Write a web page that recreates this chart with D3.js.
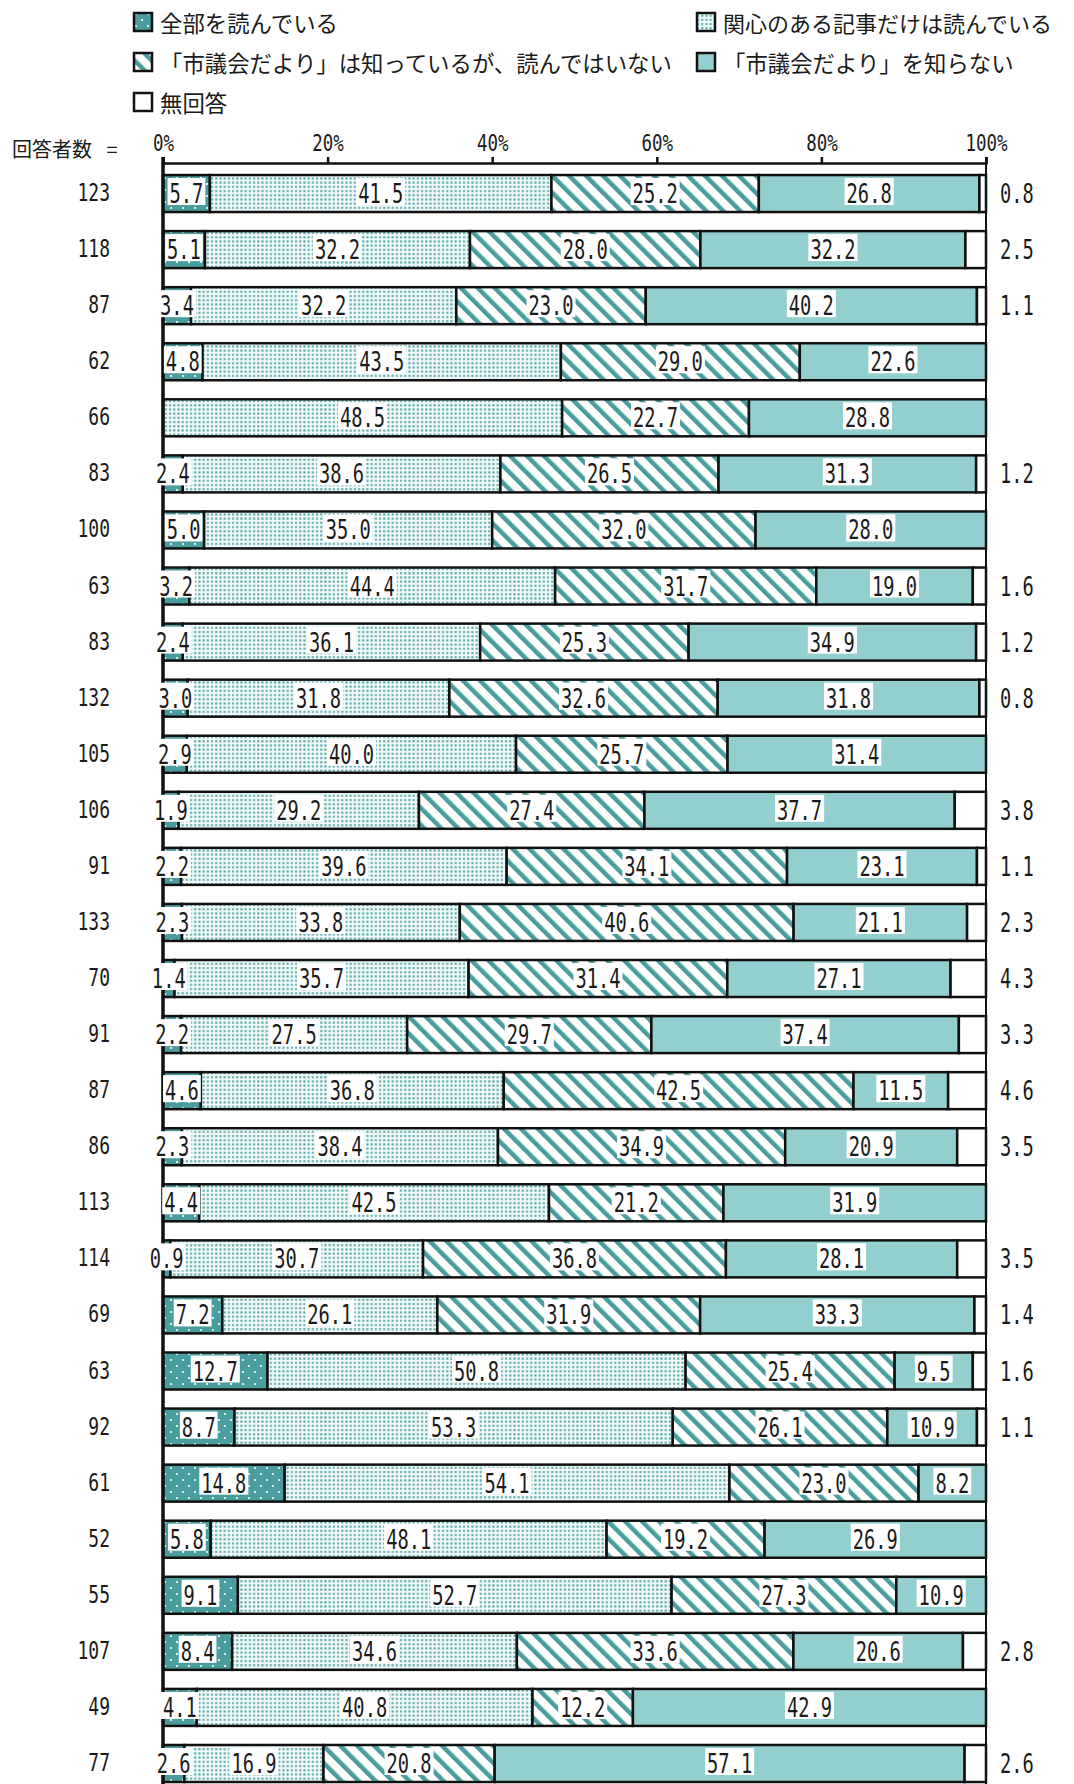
<!DOCTYPE html>
<html lang="ja">
<head>
<meta charset="UTF-8">
<title>市議会だより</title>
<style>
  body { margin: 0; background: #fff; }
  text { fill: #1a1a1a; }
  .num { font-family: "DejaVu Sans Mono", monospace; }
  .jp { font-family: "Noto Sans CJK JP", sans-serif; }
</style>
</head>
<body>
<svg width="1074" height="1784" id="svg"></svg>
<script src="https://d3js.org/d3.v7.min.js"></script>
<script>
  // 回答者数 (行ごと)
  const counts = [123, 118, 87, 62, 66, 83, 100, 63, 83, 132, 105, 106, 91, 133, 70, 91, 87, 86, 113, 114, 69, 63, 92, 61, 52, 55, 107, 49, 77]
  const allRead = [5.7, 5.1, 3.4, 4.8, 0, 2.4, 5.0, 3.2, 2.4, 3.0, 2.9, 1.9, 2.2, 2.3, 1.4, 2.2, 4.6, 2.3, 4.4, 0.9, 7.2, 12.7, 8.7, 14.8, 5.8, 9.1, 8.4, 4.1, 2.6]
  const someRead = [41.5, 32.2, 32.2, 43.5, 48.5, 38.6, 35.0, 44.4, 36.1, 31.8, 40.0, 29.2, 39.6, 33.8, 35.7, 27.5, 36.8, 38.4, 42.5, 30.7, 26.1, 50.8, 53.3, 54.1, 48.1, 52.7, 34.6, 40.8, 16.9]
  const notRead = [25.2, 28.0, 23.0, 29.0, 22.7, 26.5, 32.0, 31.7, 25.3, 32.6, 25.7, 27.4, 34.1, 40.6, 31.4, 29.7, 42.5, 34.9, 21.2, 36.8, 31.9, 25.4, 26.1, 23.0, 19.2, 27.3, 33.6, 12.2, 20.8]
  const unknown = [26.8, 32.2, 40.2, 22.6, 28.8, 31.3, 28.0, 19.0, 34.9, 31.8, 31.4, 37.7, 23.1, 21.1, 27.1, 37.4, 11.5, 20.9, 31.9, 28.1, 33.3, 9.5, 10.9, 8.2, 26.9, 10.9, 20.6, 42.9, 57.1]
  const noAnswer = [0.8, 2.5, 1.1, 0, 0, 1.2, 0, 1.6, 1.2, 0.8, 0, 3.8, 1.1, 2.3, 4.3, 3.3, 4.6, 3.5, 0, 3.5, 1.4, 1.6, 1.1, 0, 0, 0, 2.8, 0, 2.6]
  const seriesNames = ["全部を読んでいる", "関心のある記事だけは読んでいる", "「市議会だより」は知っているが、読んではいない", "「市議会だより」を知らない", "無回答"]
  const tickValues = [0, 20, 40, 60, 80, 100]

  const teal = "#4a9d9e"
  const lightTeal = "#94cfcf"
  const fills = ["url(#pDark)", "url(#pDots)", "url(#pStripe)", lightTeal, "#fff"]
  const sx = 0.72
  const fmt = d3.format(".1f")

  const svg = d3.select("svg#svg")
  const axisY = 163
  const step = 56.07
  const rowTop = 165.5

  const keys = ["a", "b", "c", "d", "e"]
  const table = counts.map((c, i) => ({ idx: i, a: allRead[i], b: someRead[i], c: notRead[i], d: unknown[i], e: noAnswer[i] }))
  // 丸め誤差があるので各行を100%にそろえる
  const stacked = d3.stack().keys(keys).offset(d3.stackOffsetExpand)(table)

  const xScale = d3.scaleLinear().domain([0, 100]).range([163, 986])
  const yScale = d3.scaleBand().domain(d3.range(counts.length))
    .range([rowTop, rowTop + step * counts.length]).paddingInner(0.34).paddingOuter(0.17)

  // パターン
  const defs = svg.append("defs")
  const pDark = defs.append("pattern").attr("id", "pDark").attr("patternUnits", "userSpaceOnUse").attr("width", 12).attr("height", 12)
  pDark.append("rect").attr("width", 12).attr("height", 12).attr("fill", teal)
  pDark.append("circle").attr("cx", 3).attr("cy", 4).attr("r", 1.1).attr("fill", "#fff")
  pDark.append("circle").attr("cx", 9).attr("cy", 10).attr("r", 1.1).attr("fill", "#fff")

  const pDots = defs.append("pattern").attr("id", "pDots").attr("patternUnits", "userSpaceOnUse").attr("width", 4.2).attr("height", 4.2)
  pDots.append("rect").attr("width", 4.2).attr("height", 4.2).attr("fill", "#f2f9f9")
  pDots.append("rect").attr("x", 1).attr("y", 1).attr("width", 2.1).attr("height", 2.1).attr("fill", "#58a9a9")

  const pStripe = defs.append("pattern").attr("id", "pStripe").attr("patternUnits", "userSpaceOnUse")
    .attr("width", 12).attr("height", 12).attr("patternTransform", "rotate(-45)")
  pStripe.append("rect").attr("width", 12).attr("height", 12).attr("fill", "#fff")
  pStripe.append("rect").attr("width", 4.5).attr("height", 12).attr("fill", teal)

  // 凡例
  const legendPos = [[133, 22], [696, 22], [133, 62], [696, 62], [133, 102]]
  const legend = svg.append("g").selectAll("g").data(seriesNames).join("g")
    .attr("transform", (d, i) => `translate(${legendPos[i][0]},${legendPos[i][1]})`)
  legend.append("rect").attr("x", 1).attr("y", -9).attr("width", 18).attr("height", 18)
    .attr("fill", (d, i) => fills[i]).attr("stroke", "#111").attr("stroke-width", 2.5)
  legend.append("text").attr("class", "jp").attr("x", 27).attr("dominant-baseline", "central")
    .attr("font-size", (d, i) => i == 1 ? 22 : 22.4).text(d => d)

  svg.append("text").attr("class", "jp").attr("x", 12).attr("y", 157).attr("font-size", 20).text("回答者数")
  svg.append("text").attr("class", "jp").attr("x", 112).attr("y", 157).attr("text-anchor", "middle").attr("font-size", 20).text("=")

  // 上の軸
  const xAxis = d3.axisTop(xScale).tickValues(tickValues).tickFormat(d => d + "%").tickSize(6).tickPadding(6)
  const gx = svg.append("g").attr("transform", `translate(0,${axisY})`).call(xAxis)
  gx.select(".domain").attr("stroke", "#111").attr("stroke-width", 2.5)
  gx.selectAll(".tick line").attr("stroke", "#111").attr("stroke-width", 2.5)
  gx.selectAll(".tick text").attr("class", "num").attr("font-size", 23).attr("fill", "#1a1a1a")
    .attr("transform", "scale(0.76,1)")

  // 回答者数
  const yAxis = d3.axisLeft(yScale).tickFormat(i => counts[i]).tickSize(0).tickPadding(0)
  const gy = svg.append("g").attr("transform", "translate(110,0)").call(yAxis)
  gy.select(".domain").remove()
  gy.selectAll(".tick text").attr("class", "num").attr("font-size", 25).attr("fill", "#1a1a1a")
    .attr("dy", "0.3em").attr("transform", `scale(${sx},1)`)

  // 帯グラフ
  const bars = svg.append("g")
  stacked.forEach((layer, k) => {
    bars.append("g").selectAll("rect").data(layer.filter(d => d.data[keys[k]] > 0)).join("rect")
      .attr("x", d => xScale(d[0] * 100))
      .attr("y", d => yScale(d.data.idx))
      .attr("width", d => xScale(d[1] * 100) - xScale(d[0] * 100))
      .attr("height", yScale.bandwidth())
      .attr("fill", fills[k])
      .attr("stroke", "#111")
      .attr("stroke-width", 2.5)
  })

  // 枠線
  svg.append("line").attr("x1", xScale(0)).attr("x2", xScale(0)).attr("y1", axisY - 6).attr("y2", 1784)
    .attr("stroke", "#111").attr("stroke-width", 3.5)
  svg.append("line").attr("x1", xScale(100)).attr("x2", xScale(100)).attr("y1", axisY - 6).attr("y2", 1784)
    .attr("stroke", "#111").attr("stroke-width", 2)

  // 数値ラベル
  const labelData = []
  stacked.slice(0, 4).forEach((layer, k) => {
    layer.forEach(d => {
      const v = d.data[keys[k]]
      if (v > 0) labelData.push({ x: xScale((d[0] + d[1]) * 50), y: yScale(d.data.idx) + yScale.bandwidth() / 2, v: v })
    })
  })
  const labels = svg.append("g").selectAll("g").data(labelData).join("g")
    .attr("transform", d => `translate(${d.x},${d.y})`)
  labels.append("rect").attr("fill", "#fff")
  labels.append("text").attr("class", "num").attr("font-size", 26).attr("text-anchor", "middle")
    .attr("y", 9.5).attr("transform", `scale(${sx},1)`).text(d => fmt(d.v))
  labels.each(function () {
    const t = d3.select(this).select("text").node()
    const w = t.getComputedTextLength() * sx + 4
    d3.select(this).select("rect").attr("x", -w / 2).attr("y", -15.5).attr("width", w).attr("height", 27)
  })

  // 無回答
  svg.append("g").selectAll("text").data(stacked[4].filter(d => d.data.e > 0)).join("text")
    .attr("class", "num").attr("font-size", 26)
    .attr("transform", d => `translate(1000,${yScale(d.data.idx) + yScale.bandwidth() / 2 + 9.5}) scale(${sx},1)`)
    .text(d => fmt(d.data.e))
</script>
</body>
</html>
